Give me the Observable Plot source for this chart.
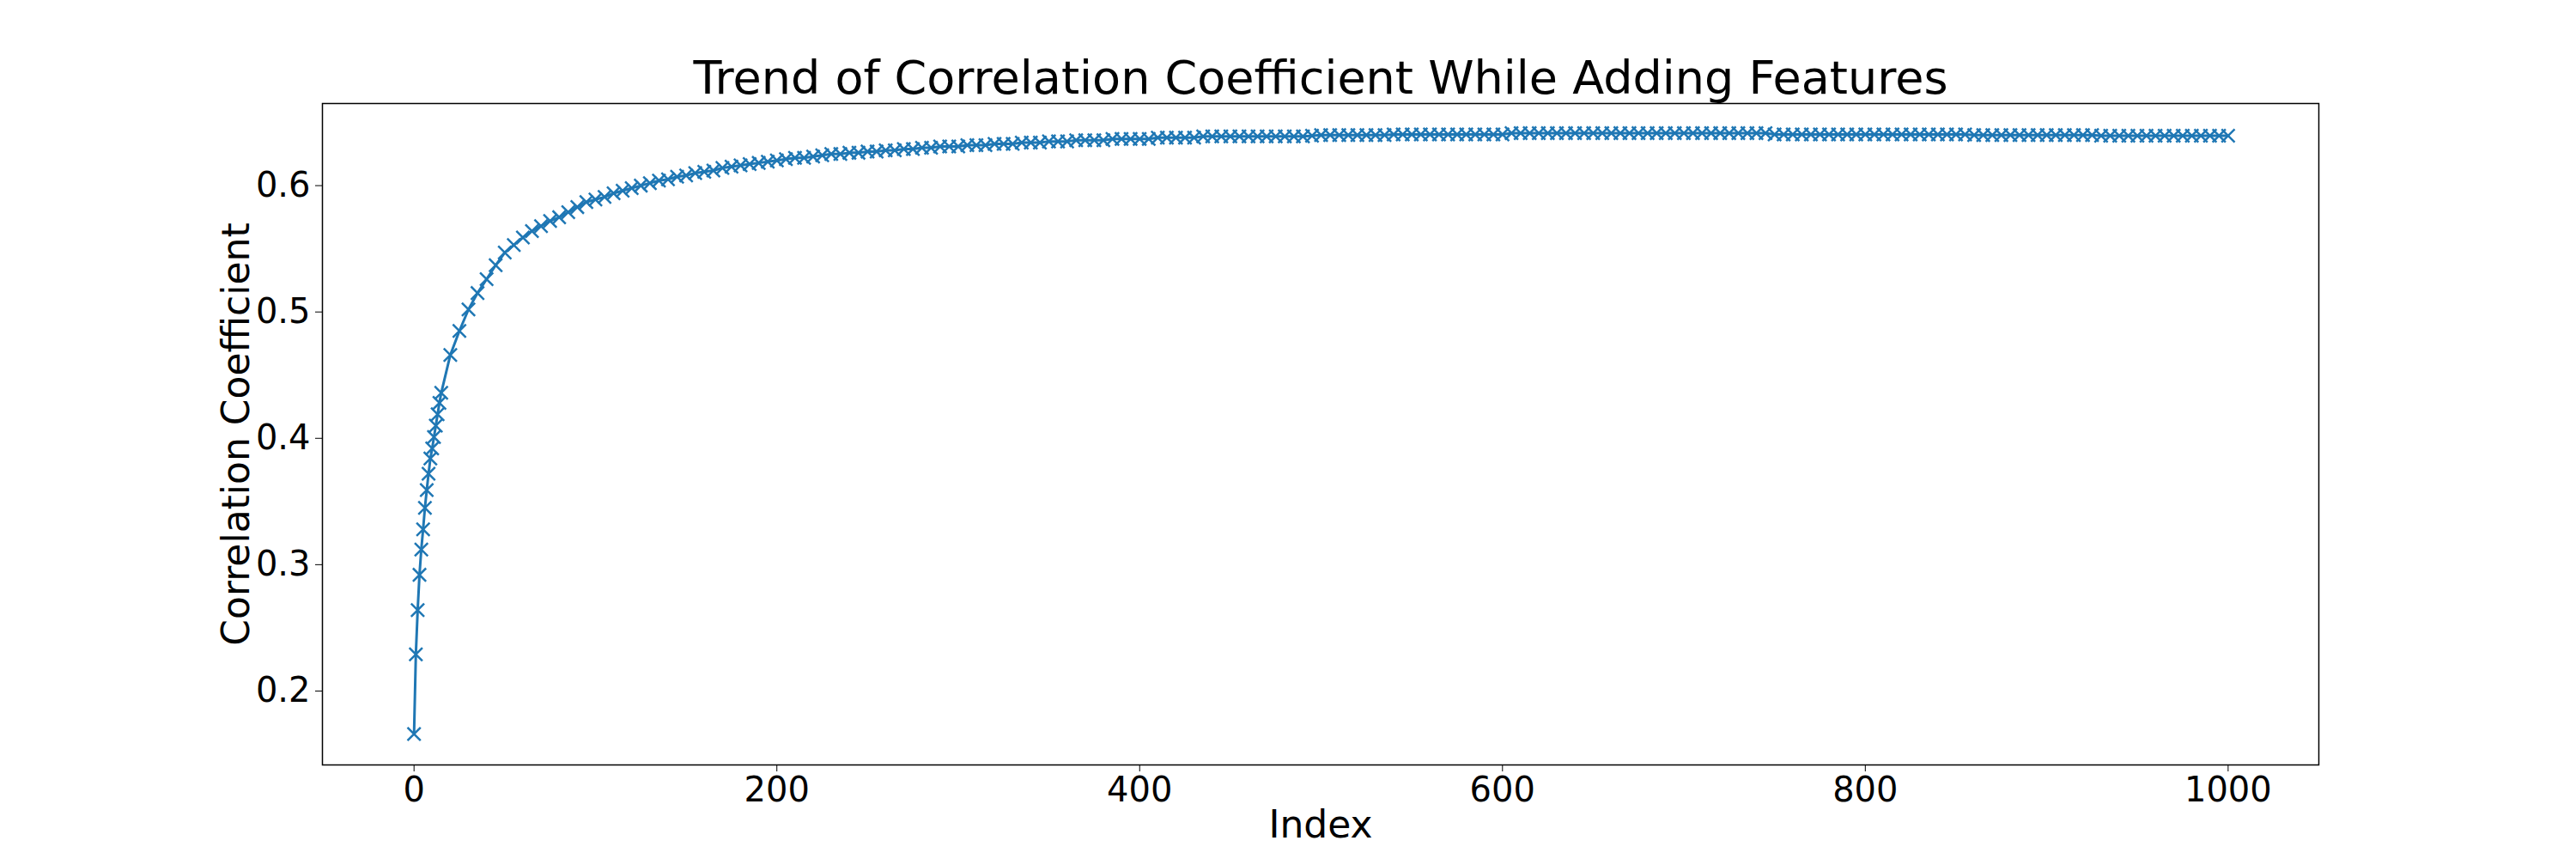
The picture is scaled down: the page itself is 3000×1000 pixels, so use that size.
<!DOCTYPE html>
<html>
<head>
<meta charset="utf-8">
<script src="https://cdn.jsdelivr.net/npm/d3@7"></script>
<script src="https://cdn.jsdelivr.net/npm/@observablehq/plot@0.6"></script>
<style>
  body { margin: 0; background: #fff; font-family: "DejaVu Sans", sans-serif; }
</style>
</head>
<body>
<div id="chart"></div>
<script>
// indices 0..14 one by one, then every 5
const firstIdx = d3.range(0, 15);
const firstCorr = [0.166, 0.229, 0.264, 0.292, 0.312, 0.328, 0.345, 0.359, 0.372, 0.384, 0.392, 0.401, 0.410, 0.419, 0.428];

const restIdx = d3.range(15, 1001, 5);
const restCorr = [
  0.436, 0.466, 0.485, 0.502, 0.515, 0.526, 0.537, 0.547, 0.553, 0.559,
  0.564, 0.568, 0.572, 0.575, 0.579, 0.583, 0.587, 0.589, 0.591, 0.594,
  0.596, 0.598, 0.600, 0.602, 0.604, 0.605, 0.607, 0.608, 0.610, 0.611,
  0.612, 0.614, 0.615, 0.616, 0.617, 0.618, 0.619, 0.620, 0.621, 0.622,
  0.622, 0.623, 0.624, 0.625, 0.625, 0.626, 0.626, 0.627, 0.627, 0.628,
  0.628, 0.629, 0.629, 0.630, 0.630, 0.631, 0.631, 0.631, 0.632, 0.632,
  0.632, 0.633, 0.633, 0.633, 0.634, 0.634, 0.634, 0.635, 0.635, 0.635,
  0.636, 0.636, 0.636, 0.636, 0.637, 0.637, 0.637, 0.637, 0.637, 0.638,
  0.638, 0.638, 0.638, 0.638, 0.639, 0.639, 0.639, 0.639, 0.639, 0.639,
  0.639, 0.639, 0.639, 0.639, 0.639, 0.639, 0.6395, 0.640, 0.640, 0.640,
  0.640, 0.640, 0.640, 0.640, 0.640, 0.6405, 0.6405, 0.6405, 0.6405, 0.6405,
  0.6405, 0.6405, 0.6405, 0.6405, 0.6405, 0.6405, 0.6405, 0.6405, 0.6415, 0.6415,
  0.6415, 0.6415, 0.6415, 0.6415, 0.6415, 0.6415, 0.6415, 0.6415, 0.6415, 0.6415,
  0.6415, 0.6415, 0.6415, 0.6415, 0.6415, 0.6415, 0.6415, 0.6415, 0.6415, 0.6415,
  0.6415, 0.6415, 0.6415, 0.6415, 0.6415, 0.6415, 0.6415, 0.6405, 0.6405, 0.6405,
  0.6405, 0.6405, 0.6405, 0.6405, 0.6405, 0.6405, 0.6405, 0.6405, 0.6405, 0.6405,
  0.6405, 0.6405, 0.6405, 0.6405, 0.6405, 0.6405, 0.6405, 0.6405, 0.6405, 0.640,
  0.640, 0.640, 0.640, 0.640, 0.640, 0.640, 0.640, 0.640, 0.640, 0.640,
  0.640, 0.640, 0.640, 0.6395, 0.6395, 0.6395, 0.6395, 0.6395, 0.6395, 0.6395,
  0.6395, 0.6395, 0.6395, 0.6395, 0.6395, 0.6395, 0.6395, 0.6395
];

const xTicks = [0, 200, 400, 600, 800, 1000];
const yTicks = [0.2, 0.3, 0.4, 0.5, 0.6];

const data = [
  ...firstIdx.map((i, k) => ({index: i, corr: firstCorr[k]})),
  ...restIdx.map((i, k) => ({index: i, corr: restCorr[k]}))
];

const blue = "#1f77b4";

const chart = Plot.plot({
  width: 3000,
  height: 1000,
  marginLeft: 375,
  marginRight: 300,
  marginTop: 120,
  marginBottom: 110,
  style: {fontFamily: "DejaVu Sans, sans-serif", fontSize: "40px", color: "#000", background: "#fff"},
  x: {domain: [-50.5, 1050], label: null},
  y: {domain: [0.1415, 0.665], label: null},
  marks: [
    Plot.frame({stroke: "#000", strokeWidth: 1.5}),
    Plot.line(data, {x: "index", y: "corr", stroke: blue, strokeWidth: 3}),
    Plot.dot(data, {x: "index", y: "corr", symbol: "times", r: 7, stroke: blue, strokeWidth: 2.5}),
    Plot.axisX({ticks: xTicks, tickSize: 8, tickPadding: 6, fontSize: 40, label: null,
      tickFormat: d3.format("d")}),
    Plot.axisY({ticks: yTicks, tickSize: 8, tickPadding: 6, fontSize: 40, label: null,
      tickFormat: d => d.toFixed(1)}),
    Plot.text(["Trend of Correlation Coefficient While Adding Features"],
      {frameAnchor: "top", dy: -50, fontSize: 54, fill: "#000"}),
    Plot.text(["Index"], {frameAnchor: "bottom", dy: 84, fontSize: 44, fill: "#000"}),
    Plot.text(["Correlation Coefficient"],
      {frameAnchor: "left", textAnchor: "middle", dx: -100, rotate: -90, fontSize: 44, fill: "#000"})
  ]
});

document.getElementById("chart").append(chart);
</script>
</body>
</html>
